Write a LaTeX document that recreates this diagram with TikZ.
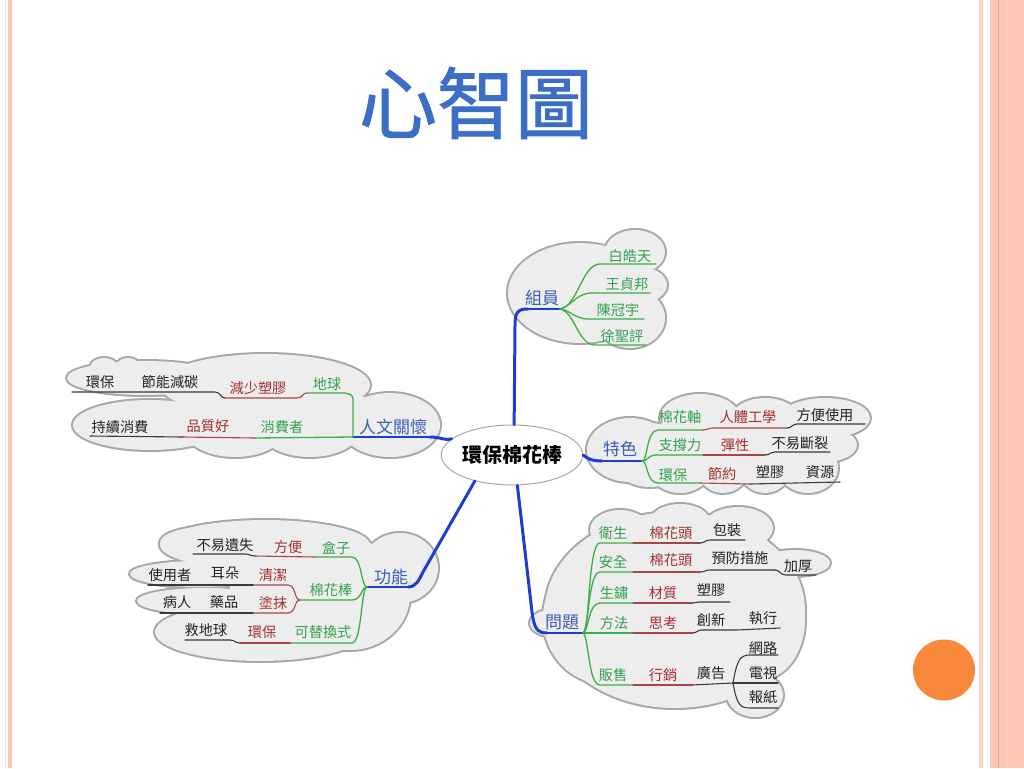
\documentclass[tikz,border=0pt]{standalone}
\usepackage{fontspec}
\setmainfont{Noto Sans CJK TC}
\newfontfamily\titlefont[FakeBold=1.2]{Noto Sans CJK TC}
\usetikzlibrary{shapes.geometric}
\definecolor{cfill}{HTML}{EDEDED}
\definecolor{cline}{HTML}{A8A8A8}
\definecolor{mainblue}{HTML}{1F3ED0}
\definecolor{tblue}{HTML}{3C5FB5}
\definecolor{tgreen}{HTML}{34A04E}
\definecolor{lgreen}{HTML}{3CB043}
\definecolor{tred}{HTML}{A3302F}
\definecolor{lred}{HTML}{A84646}
\definecolor{tblack}{HTML}{222222}
\definecolor{lblack}{HTML}{3A3A3A}
\definecolor{titleblue}{HTML}{3D6EC6}
\definecolor{salmon}{HTML}{FCC8B4}
\definecolor{salmonlt}{HTML}{FDD6C8}
\definecolor{salmondk}{HTML}{E9A488}
\definecolor{orangedot}{HTML}{F8883A}
\begin{document}
\begin{tikzpicture}[x=1pt,y=-1pt,
  txt/.style={inner sep=0pt,font=\fontsize{14.2}{16}\selectfont},
  tb/.style={txt,text=tblack},
  tr/.style={txt,text=tred},
  tg/.style={txt,text=tgreen},
  lv1/.style={inner sep=0pt,font=\fontsize{17}{19}\selectfont,text=tblue},
  ln/.style={line width=1.1pt,line cap=round},
  lb/.style={ln,draw=lblack},
  lr/.style={ln,draw=lred},
  lg/.style={ln,draw=lgreen,line width=1.3pt},
  lblue/.style={line width=2pt,draw=mainblue,line cap=round},
  mainline/.style={line width=3pt,draw=mainblue,line cap=round},
  cloudedge/.style={draw=cline,line width=4pt},
  cloudbody/.style={fill=cfill}]
\useasboundingbox (0,0) rectangle (1024,768);
\fill[white] (0,0) rectangle (1024,768);
% borders
\draw[salmonlt,line width=1pt] (5.5,0) -- (5.5,768);
\fill[salmon] (8,0) rectangle (12,768);
\fill[salmonlt] (979,0) rectangle (983,768);
\fill[salmon] (990,0) rectangle (1024,768);
\draw[salmondk,line width=0.8pt] (998,0) -- (998,768);
\draw[salmonlt!60!salmon,line width=0.8pt] (1007,0) -- (1007,768);
\fill[orangedot] (944,670) ellipse [x radius=31pt, y radius=30.5pt];
% title
\node[inner sep=0pt,font=\titlefont\fontsize{78}{80}\selectfont,text=titleblue] (title) at (476,103) {心智圖};

% clouds: edges first, then bodies
\foreach \cx/\cy/\rx/\ry in {
  580/293/72/50, 635/252/30/22, 640/285/27/18, 630/318/35/30,
  145/378/78/17, 104/366/13/8, 128/365/11/7, 265/385/105/31, 150/425/77/25, 235/430/50/27, 310/430/50/27, 390/425/50/32, 300/415/80/30,
  630/450/43/32, 650/455/40/32, 700/418/40/24, 765/420/35/22, 825/418/45/20, 825/445/32/17, 680/470/30/23, 723/470/25/23, 765/470/25/23, 808/468/30/25, 740/447/95/35,
  265/545/105/25, 205/543/45/16, 200/574/70/13, 205/601/68/13, 260/632/105/29, 350/595/60/55, 400/568/38/35, 290/588/60/30,
  675/610/130/98, 605/618/62/66, 620/530/30/20, 680/522/30/18, 738/528/35/21, 795/563/35/13, 555/623/25/14, 755/695/28/22, 760/620/45/60}
  \draw[cloudedge] (\cx,\cy) ellipse [x radius=\rx pt, y radius=\ry pt];
\foreach \cx/\cy/\rx/\ry in {
  580/293/72/50, 635/252/30/22, 640/285/27/18, 630/318/35/30,
  145/378/78/17, 104/366/13/8, 128/365/11/7, 265/385/105/31, 150/425/77/25, 235/430/50/27, 310/430/50/27, 390/425/50/32, 300/415/80/30,
  630/450/43/32, 650/455/40/32, 700/418/40/24, 765/420/35/22, 825/418/45/20, 825/445/32/17, 680/470/30/23, 723/470/25/23, 765/470/25/23, 808/468/30/25, 740/447/95/35,
  265/545/105/25, 205/543/45/16, 200/574/70/13, 205/601/68/13, 260/632/105/29, 350/595/60/55, 400/568/38/35, 290/588/60/30,
  675/610/130/98, 605/618/62/66, 620/530/30/20, 680/522/30/18, 738/528/35/21, 795/563/35/13, 555/623/25/14, 755/695/28/22, 760/620/45/60}
  \fill[cloudbody] (\cx,\cy) ellipse [x radius=\rx pt, y radius=\ry pt];

% central node
\node[ellipse,draw=cline,line width=1pt,fill=white,minimum width=122pt,minimum height=60pt,inner sep=0pt,font=\fontsize{20}{22}\selectfont\bfseries,text=black] (c) at (512,455) {環保棉花棒};

% hubs
\coordinate (hZ) at (560,309);
\coordinate (hT) at (642,461);
\coordinate (hP) at (583,633);
\coordinate (hH) at (353,437);
\coordinate (hF) at (367,587);

% main connectors
\draw[mainline] (c.86) -- (515,325) .. controls (515,312) and (518,309) .. (528,309);
\draw[lblue] (528,309) -- (hZ);
\draw[mainline] (c.east) .. controls (585,456) and (588,461) .. (602,461);
\draw[lblue] (602,461) -- (hT);
\draw[mainline] (c.-80) -- (532,612) .. controls (534,628) and (537,633) .. (547,633);
\draw[lblue] (547,633) -- (hP);
\draw[mainline] (c.165) .. controls (446,441) and (440,437) .. (430,437);
\draw[lblue] (430,437) -- (hH);
\draw[mainline] (c.-145) -- (423,572) .. controls (419,580) and (416,587) .. (408,587);
\draw[lblue] (408,587) -- (hF);

% 組員
\draw[lg] (hZ) .. controls (578,306) and (582,264) .. (600,264) -- (656,264);
\draw[lg] (hZ) .. controls (572,306) and (576,293) .. (592,293) -- (650,293);
\draw[lg] (hZ) .. controls (570,310) and (575,319) .. (588,319) -- (644,319);
\draw[lg] (hZ) .. controls (575,312) and (578,345) .. (595,345) -- (646,345);
\node[lv1] (zy) at (542,298) {組員};
\node[tg] (z1) at (630,256) {白皓天};
\node[tg] (z2) at (627,284) {王貞邦};
\node[tg] (z3) at (618,310) {陳冠宇};
\node[tg] (z4) at (622,336) {徐聖評};

% 人文關懷
\draw[lg] (hH) -- (353,403) .. controls (353,395) .. (345,393) -- (307,393);
\draw[lg] (hH) -- (255,438);
\draw[lr] (307,393) .. controls (302,393) and (303,398) .. (297,398) -- (225,398);
\draw[lb] (225,398) .. controls (220,398) and (221,392) .. (215,392) -- (72,392);
\draw[lr] (255,438) -- (183,437);
\draw[lb] (183,437) -- (90,436);
\node[lv1] (h0) at (393,427) {人文關懷};
\node[tg] (h1) at (327,384) {地球};
\node[tr] (h2) at (258,388) {減少塑膠};
\node[tb] (h3) at (170,382) {節能減碳};
\node[tb] (h4) at (100,382) {環保};
\node[tg] (h5) at (282,427) {消費者};
\node[tr] (h6) at (208,426) {品質好};
\node[tb] (h7) at (120,427) {持續消費};

% 特色
\draw[lg] (hT) .. controls (648,461) and (646,430) .. (658,430) -- (703,430);
\draw[lr] (703,430) .. controls (708,430) and (708,428) .. (713,428) -- (787,428);
\draw[lb] (787,428) .. controls (792,428) and (792,424) .. (797,424) -- (865,424);
\draw[lg] (hT) .. controls (648,461) and (648,455) .. (656,455) -- (703,455);
\draw[lr] (703,455) -- (765,455);
\draw[lb] (765,455) .. controls (770,455) and (770,452) .. (775,452) -- (830,452);
\draw[lg] (hT) .. controls (648,461) and (646,483) .. (658,483) -- (700,483);
\draw[lr] (700,483) -- (750,484);
\draw[lb] (750,484) -- (840,482);
\node[lv1] (t0) at (620,449) {特色};
\node[tg] (t1) at (680,417) {棉花軸};
\node[tr] (t2) at (748,417) {人體工學};
\node[tb] (t3) at (825,415) {方便使用};
\node[tg] (t4) at (680,445) {支撐力};
\node[tr] (t5) at (735,445) {彈性};
\node[tb] (t6) at (800,443) {不易斷裂};
\node[tg] (t7) at (673,475) {環保};
\node[tr] (t8) at (722,474) {節約};
\node[tb] (t9) at (770,472) {塑膠};
\node[tb] (t10) at (820,472) {資源};

% 功能
\draw[lg] (hF) .. controls (361,587) and (362,557) .. (352,557) -- (315,557);
\draw[lr] (315,557) -- (255,556);
\draw[lb] (255,556) .. controls (250,556) and (250,554) .. (245,554) -- (193,554);
\draw[lg] (hF) .. controls (361,587) and (362,600) .. (352,600) -- (300,600);
\draw[lr] (300,600) .. controls (294,600) and (296,585) .. (288,585) -- (253,585);
\draw[lr] (300,600) .. controls (294,600) and (296,613) .. (288,613) -- (253,613);
\draw[lb] (253,585) -- (148,585);
\draw[lb] (253,613) -- (160,613);
\draw[lg] (hF) .. controls (361,587) and (362,643) .. (352,643) -- (290,643);
\draw[lr] (290,643) -- (240,643);
\draw[lb] (240,643) .. controls (235,643) and (235,640) .. (230,640) -- (185,640);
\node[lv1] (f0) at (391,577) {功能};
\node[tg] (f1) at (336,548) {盒子};
\node[tr] (f2) at (288,547) {方便};
\node[tb] (f3) at (225,545) {不易遺失};
\node[tg] (f4) at (331,590) {棉花棒};
\node[tr] (f5) at (273,575) {清潔};
\node[tb] (f6) at (225,573) {耳朵};
\node[tb] (f7) at (170,575) {使用者};
\node[tr] (f8) at (273,603) {塗抹};
\node[tb] (f9) at (224,602) {藥品};
\node[tb] (f10) at (177,602) {病人};
\node[tg] (f11) at (323,632) {可替換式};
\node[tr] (f12) at (262,632) {環保};
\node[tb] (f13) at (206,630) {救地球};

% 問題
\draw[lg] (hP) .. controls (590,630) and (588,543) .. (600,543) -- (633,543);
\draw[lr] (633,543) -- (700,543);
\draw[lb] (700,543) .. controls (705,543) and (705,540) .. (710,540) -- (745,540);
\draw[lg] (hP) .. controls (589,630) and (588,572) .. (600,572) -- (633,572);
\draw[lr] (633,572) -- (700,572);
\draw[lb] (700,572) .. controls (705,572) and (705,570) .. (710,570) -- (775,570);
\draw[lb] (775,570) .. controls (780,570) and (780,575) .. (786,575) -- (816,575);
\draw[lg] (hP) .. controls (589,631) and (588,603) .. (600,603) -- (633,603);
\draw[lr] (633,603) -- (692,603);
\draw[lb] (692,603) .. controls (696,603) and (696,602) .. (700,602) -- (730,602);
\draw[lg] (hP) -- (633,633);
\draw[lr] (633,633) -- (692,633);
\draw[lb] (692,633) .. controls (697,633) and (697,630) .. (702,630) -- (737,630) -- (780,628);
\draw[lg] (hP) .. controls (589,636) and (588,685) .. (600,685) -- (633,685);
\draw[lr] (633,685) -- (692,685);
\draw[lb] (692,685) -- (733,683);
\draw[lb] (733,683) .. controls (737,660) and (740,655) .. (750,655) -- (778,655);
\draw[lb] (733,683) -- (778,683);
\draw[lb] (733,683) .. controls (737,705) and (740,708) .. (750,708) -- (778,708);
\node[lv1] (p0) at (562,622) {問題};
\node[tg] (p1) at (613,533) {衛生};
\node[tr] (p2) at (671,533) {棉花頭};
\node[tb] (p3) at (727,530) {包裝};
\node[tg] (p4) at (613,562) {安全};
\node[tr] (p5) at (671,560) {棉花頭};
\node[tb] (p6) at (740,558) {預防措施};
\node[tb] (p7) at (798,566) {加厚};
\node[tg] (p8) at (614,593) {生鏽};
\node[tr] (p9) at (663,593) {材質};
\node[tb] (p10) at (711,590) {塑膠};
\node[tg] (p11) at (614,623) {方法};
\node[tr] (p12) at (663,623) {思考};
\node[tb] (p13) at (711,620) {創新};
\node[tb] (p14) at (763,618) {執行};
\node[tg] (p15) at (613,675) {販售};
\node[tr] (p16) at (663,675) {行銷};
\node[tb] (p17) at (711,673) {廣告};
\node[tb] (p18) at (763,648) {網路};
\node[tb] (p19) at (763,673) {電視};
\node[tb] (p20) at (763,697) {報紙};
\end{tikzpicture}
\end{document}
